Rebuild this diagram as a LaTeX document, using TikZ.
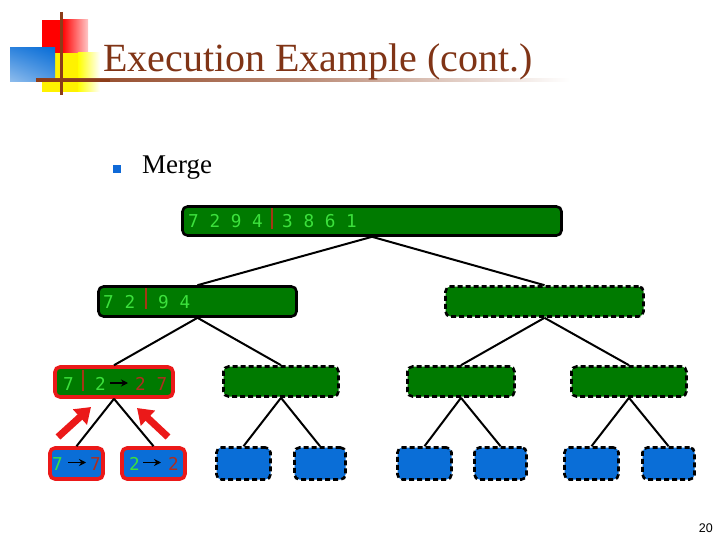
\documentclass[tikz,border=0pt]{standalone}
\usepackage{fontspec}
\setmainfont{Liberation Serif}
\newfontfamily\digfont{DejaVu Sans Mono}
\newfontfamily\pgfont{Liberation Sans}
\usetikzlibrary{arrows.meta,shadings}
\definecolor{tbrown}{RGB}{128,52,22}
\definecolor{lbrown}{RGB}{140,60,25}
\definecolor{gfill}{RGB}{0,122,0}
\definecolor{bfill}{RGB}{10,110,215}
\definecolor{lgreen}{RGB}{60,225,60}
\definecolor{dred}{RGB}{175,45,30}
\definecolor{barred}{RGB}{165,55,20}
\definecolor{bigred}{RGB}{235,25,25}
\definecolor{bullet}{RGB}{15,105,215}
\tikzset{
  box/.style={draw=black, line width=2.6pt, rounded corners=5pt, inner sep=0pt},
  gsolid/.style={box, fill=gfill},
  gdash/.style={box, fill=gfill, dash pattern=on 5pt off 3pt},
  bdash/.style={box, fill=bfill, dash pattern=on 5pt off 3pt},
  gred/.style={box, fill=gfill, draw=bigred, line width=3.6pt},
  bred/.style={box, fill=bfill, draw=bigred, line width=3.6pt},
  edge/.style={line width=2pt, black},
  dig/.style={font={\digfont\fontsize{17.7}{20}\selectfont}, text=lgreen, inner sep=0pt, anchor=base west},
  rdig/.style={dig, text=dred},
  sepbar/.style={line width=2.2pt, barred},
  tarrow/.style={line width=1.6pt, black, -{Stealth[length=7pt,width=7pt]}},
  bigarrow/.style={line width=7pt, bigred, -{Triangle[length=15pt,width=20pt]}},
}
\begin{document}
\begin{tikzpicture}[x=1pt,y=-1pt]
\useasboundingbox (0,0) rectangle (720,540);
% logo
\fill[red] (42,20) rectangle (62,53);
\shade[left color=red, right color=red!22] (62,20) rectangle (88,53);
\fill[yellow] (42,53) rectangle (78,92);
\shade[left color=yellow, right color=white] (78,53) rectangle (100,92);
\shade[upper left=bfill!85, upper right=bfill, lower left=bfill!45, lower right=bfill!70] (10,48) rectangle (55,82);
\shade[left color=lbrown, right color=white, middle color=lbrown!60] (36,78.8) rectangle (570,81.8);
\fill[lbrown] (36,78.8) rectangle (110,81.8);
\draw[lbrown, line width=3pt] (61,12) -- (61,95);
% title
\node[anchor=base west, inner sep=0pt, text=tbrown, font=\fontsize{40}{44}\selectfont] (title) at (103,72) {Execution Example (cont.)};
% bullet
\fill[bullet] (113,165) rectangle (121,173);
\node[anchor=base west, inner sep=0pt, font=\fontsize{27}{30}\selectfont] (merge) at (142,174) {Merge};
% tree boxes
\node[gsolid, minimum width=379pt, minimum height=29pt] (r) at (372,221) {};
\node[gsolid, minimum width=198pt, minimum height=30pt] (a) at (197.5,301.5) {};
\node[gdash, minimum width=198pt, minimum height=30pt] (b) at (544.5,301.5) {};
\node[gred, minimum width=118pt, minimum height=30pt] (aa) at (114,382) {};
\node[gdash, minimum width=115pt, minimum height=30pt] (ab) at (281,381.5) {};
\node[gdash, minimum width=107pt, minimum height=30pt] (ba) at (461,381.5) {};
\node[gdash, minimum width=115pt, minimum height=30pt] (bb) at (629,381.5) {};
\node[bred, minimum width=53pt, minimum height=31pt] (aaa) at (76.5,463.5) {};
\node[bred, minimum width=63pt, minimum height=31pt] (aab) at (153.5,463.5) {};
\node[bdash, minimum width=54pt, minimum height=32pt] (aba) at (243.5,463.5) {};
\node[bdash, minimum width=51pt, minimum height=32pt] (abb) at (320,463.5) {};
\node[bdash, minimum width=54pt, minimum height=32pt] (baa) at (424.5,463.5) {};
\node[bdash, minimum width=52pt, minimum height=32pt] (bab) at (500.5,463.5) {};
\node[bdash, minimum width=54pt, minimum height=32pt] (bba) at (591.5,463.5) {};
\node[bdash, minimum width=52pt, minimum height=32pt] (bbb) at (668.5,463.5) {};
% edges
\draw[edge] (r.south) -- (a.north);
\draw[edge] (r.south) -- (b.north);
\draw[edge] (a.south) -- (aa.north);
\draw[edge] (a.south) -- (ab.north);
\draw[edge] (b.south) -- (ba.north);
\draw[edge] (b.south) -- (bb.north);
\draw[edge] (aa.south) -- (aaa.north);
\draw[edge] (aa.south) -- (aab.north);
\draw[edge] (ab.south) -- (aba.north);
\draw[edge] (ab.south) -- (abb.north);
\draw[edge] (ba.south) -- (baa.north);
\draw[edge] (ba.south) -- (bab.north);
\draw[edge] (bb.south) -- (bba.north);
\draw[edge] (bb.south) -- (bbb.north);
% texts root
\node[dig] (r1) at (188,227) {7 2 9 4};
\draw[sepbar] (272,208) -- (272,229);
\node[dig] (r2) at (282,227) {3 8 6 1};
% level 1
\node[dig] (a1) at (103,308) {7 2};
\draw[sepbar] (146,288) -- (146,309);
\node[dig] (a2) at (158,308) {9 4};
% level 2
\node[dig] (aa1) at (63,390) {7};
\draw[sepbar] (83,370) -- (83,391);
\node[dig] (aa2) at (95,390) {2};
\coordinate (aas) at (110,383);
\coordinate (aae) at (128,383);
\draw[tarrow] (aas) -- (aae);
\node[rdig] (aa3) at (135,390) {2 7};
% level 3
\node[dig] (aaa1) at (52,470) {7};
\coordinate (aaas) at (68,462.5);
\coordinate (aaae) at (86,462.5);
\draw[tarrow] (aaas) -- (aaae);
\node[rdig] (aaa2) at (90,470) {7};
\node[dig] (aab1) at (129,470) {2};
\coordinate (aabs) at (143,462.5);
\coordinate (aabe) at (161,462.5);
\draw[tarrow] (aabs) -- (aabe);
\node[rdig] (aab2) at (168,470) {2};
% big red arrows
\coordinate (la1) at (58,437);
\coordinate (la2) at (91,407);
\coordinate (ra1) at (168,437);
\coordinate (ra2) at (137,408);
\draw[bigarrow] (la1) -- (la2);
\draw[bigarrow] (ra1) -- (ra2);
% page number
\node[anchor=base east, inner sep=0pt, font={\pgfont\fontsize{12.5}{14}\selectfont}] (pg) at (713,532) {20};
\end{tikzpicture}
\end{document}
